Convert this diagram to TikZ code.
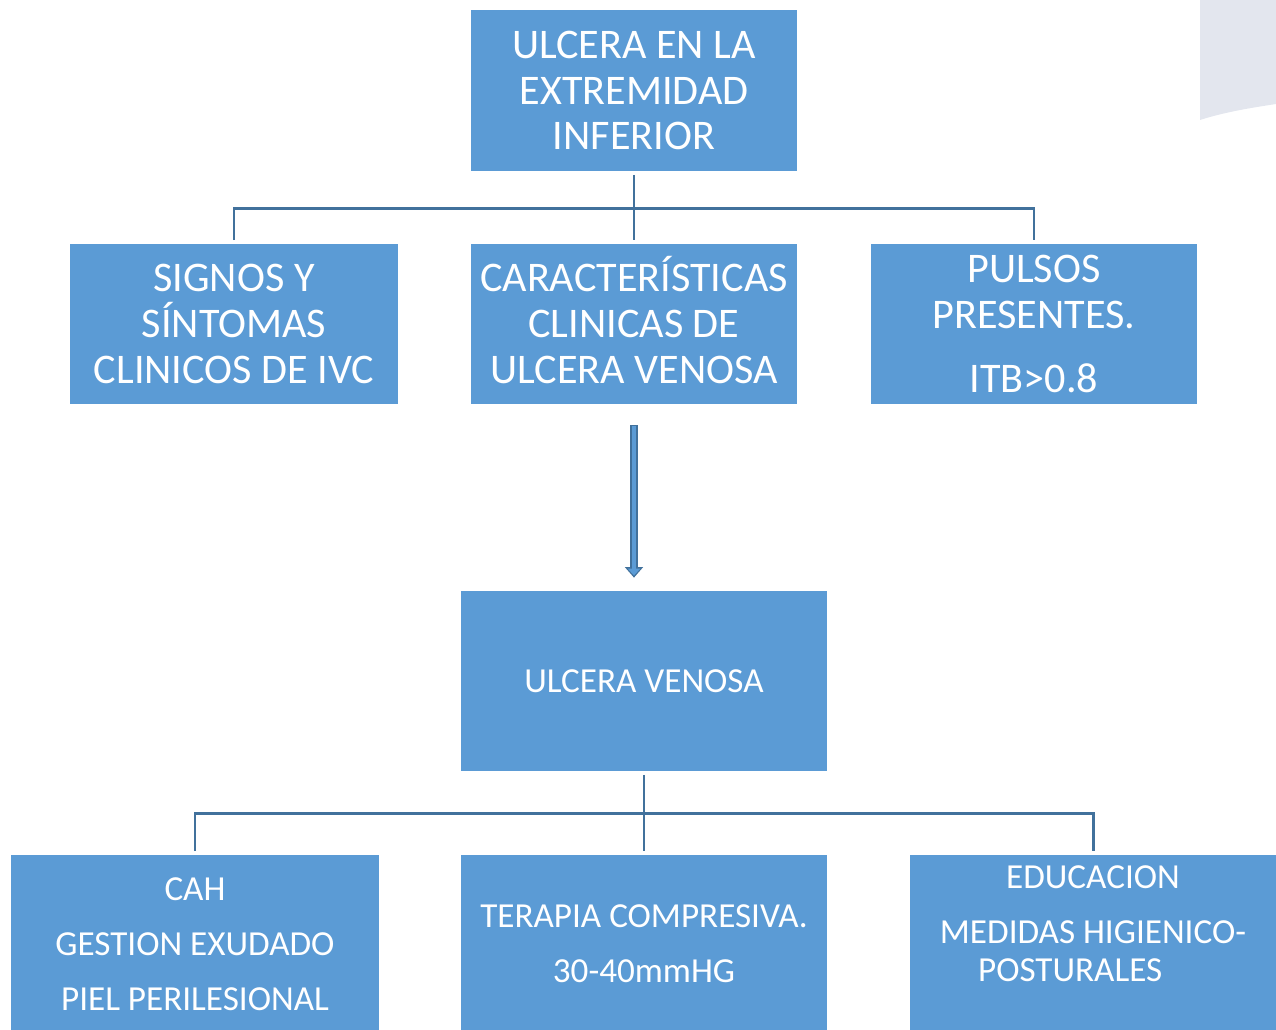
\documentclass[tikz,border=0pt]{standalone}
\usepackage{fontspec}
\setmainfont{Carlito}
\usetikzlibrary{arrows.meta}
\definecolor{cajaazul}{HTML}{5B9BD5}
\definecolor{lineaazul}{HTML}{41719C}
\definecolor{fondogris}{HTML}{E3E6EE}

\begin{document}
\begin{tikzpicture}[x=0.02cm,y=-0.02cm,
  caja/.style={fill=cajaazul,text=white,align=center,inner sep=0pt},
  grande/.style={font=\fontsize{24}{26}\selectfont},
  chica/.style={font=\fontsize{20}{21.5}\selectfont},
  linea/.style={draw=lineaazul,line width=1.7pt,shorten <=2pt,shorten >=2pt},
  flecha/.style={draw=lineaazul,line width=4.5pt,shorten <=12pt,shorten >=7.4pt,
    -{Triangle[length=6pt,width=10pt]}},
  flechain/.style={draw=cajaazul,line width=2.2pt,shorten <=12.6pt,shorten >=8.6pt,
    -{Triangle[length=4pt,width=7pt]}}]
\clip (0,0) rectangle (1276,1029);
\fill[fondogris] (1200,0) -- (1276,0) -- (1276,104)
  .. controls (1250,108) and (1225,112) .. (1200,120) -- cycle;

\node[caja,grande,minimum width=6.52cm,minimum height=3.22cm] (extremidad) at (634,90.5)
  {ULCERA EN LA\\EXTREMIDAD\\INFERIOR};
\node[caja,grande,minimum width=6.56cm,minimum height=3.2cm] (signos) at (234,324)
  {SIGNOS Y\\SÍNTOMAS\\CLINICOS DE IVC};
\node[caja,grande,minimum width=6.52cm,minimum height=3.2cm] (caracteristicas) at (634,324)
  {CARACTER\smash{Í}STICAS\\CLINICAS DE\\ULCERA VENOSA};
\node[caja,grande,minimum width=6.52cm,minimum height=3.2cm] (pulsos) at (1034,324)
  {PULSOS\\PRESENTES.\\[10.7pt]ITB>0.8};
\node[caja,chica,minimum width=7.32cm,minimum height=3.6cm] (venosa) at (644,681)
  {ULCERA VENOSA};
\node[caja,chica,minimum width=7.36cm,minimum height=3.56cm] (cah) at (195,944)
  {CAH\\[9.7pt]GESTION EXUDADO\\[9.7pt]PIEL PERILESIONAL};
\node[caja,chica,minimum width=7.32cm,minimum height=3.56cm] (terapia) at (644,944)
  {TERAPIA COMPRESIVA.\\[9.7pt]30-40mmHG};
\node[caja,chica,minimum width=7.32cm,minimum height=3.56cm] (educacion) at (1093,944)
  {EDUCACION\\[9.7pt]MEDIDAS HIGIENICO-\\POSTURALES\kern26pt\\[1.5pt]~};

\coordinate (rama1) at (634,208);
\coordinate (rama2) at (644,813);
\draw[linea] (extremidad.south) -- (caracteristicas.north);
\draw[linea] (signos.north) |- (rama1) -| (pulsos.north);
\draw[linea] (venosa.south) -- (terapia.north);
\draw[linea] (cah.north) |- (rama2) -| (educacion.north);

\draw[flecha] (caracteristicas.south) -- (caracteristicas.south |- venosa.north);
\draw[flechain] (caracteristicas.south) -- (caracteristicas.south |- venosa.north);
\end{tikzpicture}
\end{document}
